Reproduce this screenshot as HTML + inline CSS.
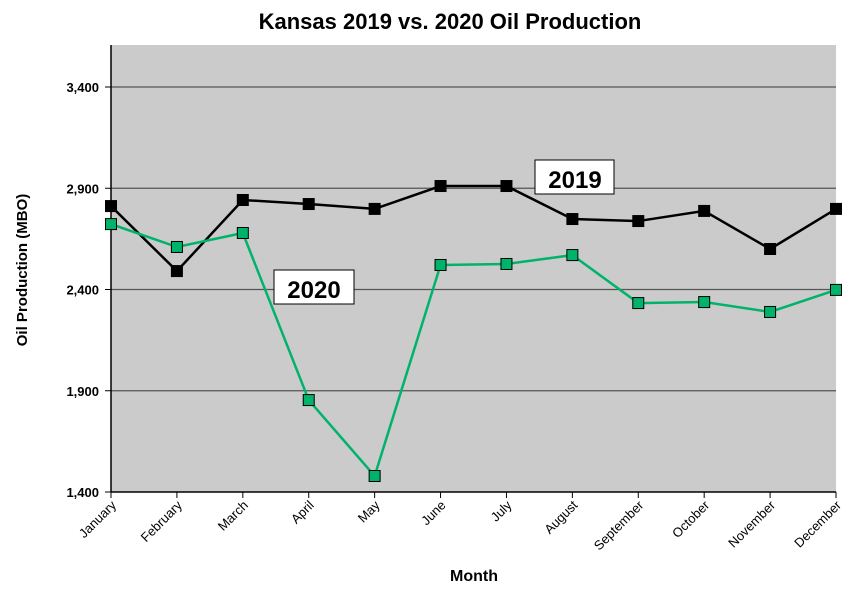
<!DOCTYPE html>
<html><head><meta charset="utf-8"><style>
body{margin:0;background:#fff;font-family:"Liberation Sans",Arial,sans-serif;}
svg text{font-family:"Liberation Sans",Arial,sans-serif;}
</style></head><body>
<svg id="chart" width="856" height="585">
<text x="450" y="29" text-anchor="middle" font-size="22" font-weight="bold">Kansas 2019 vs. 2020 Oil Production</text>
<rect x="111" y="45" width="725" height="447" fill="#cbcbcb"/>
<g id="grid"></g>
<line x1="111" y1="45" x2="111" y2="492" stroke="#000" stroke-width="1.5"/>
<line x1="111" y1="492" x2="836" y2="492" stroke="#000" stroke-width="1.5"/>
<g id="xticks"></g>
<g id="series"></g>
<text transform="translate(27,270) rotate(-90)" text-anchor="middle" font-size="15" font-weight="bold">Oil Production (MBO)</text>
<text x="474" y="581" text-anchor="middle" font-size="16" font-weight="bold">Month</text>
<g><rect x="535" y="160" width="79" height="34" fill="#fff" stroke="#000"/><text x="575" y="188" text-anchor="middle" font-size="24" font-weight="bold">2019</text></g>
<g><rect x="274" y="270" width="80" height="34" fill="#fff" stroke="#000"/><text x="314" y="298" text-anchor="middle" font-size="24" font-weight="bold">2020</text></g>
</svg>
<script>
const months=["January","February","March","April","May","June","July","August","September","October","November","December"];
const values2019=[2812,2491,2842,2822,2798,2911,2911,2748,2738,2788,2600,2798];
const values2020=[2723,2610,2679,1854,1479,2521,2526,2570,2333,2338,2289,2398];
const yTicks=[1400,1900,2400,2900,3400];
const yTickLabels=["1,400","1,900","2,400","2,900","3,400"];
const NS="http://www.w3.org/2000/svg";
function xs(i){return 111+i*(725/11);}
function ys(v){return 492-(v-1400)*0.2025;}
function mk(t,a,p){const e=document.createElementNS(NS,t);for(const k in a)e.setAttribute(k,a[k]);p.appendChild(e);return e;}
const grid=document.getElementById('grid');
yTicks.forEach((v,i)=>{
 if(i>0){const l=mk('line',{x1:111,x2:836,y1:ys(v),y2:ys(v),stroke:'#555','stroke-width':1.2},grid);
 
 }
 const tk=mk('line',{x1:105,x2:111,y1:ys(v),y2:ys(v),stroke:'#000'},grid);
 
 
 const t=mk('text',{x:99,y:ys(v)+5,'text-anchor':'end','font-size':13,'font-weight':'bold'},grid);
 t.textContent=yTickLabels[i];
 
 
});
const xt=document.getElementById('xticks');
months.forEach((m,i)=>{
 const x=xs(i);
 const tk=mk('line',{x1:x,x2:x,y1:492,y2:498,stroke:'#000'},xt);
 
 
 const t=mk('text',{transform:`translate(${x+6},${506}) rotate(-45)`,'text-anchor':'end','font-size':13},xt);
 t.textContent=m;
 
 
});
const sg=document.getElementById('series');
function drawSeries(vals,color,fill,name){
 const g=mk('g',{},sg);
 
 
 const pl=mk('polyline',{points:vals.map((v,i)=>xs(i)+','+ys(v)).join(' '),fill:'none',stroke:color,'stroke-width':2.5},g);
 
 
 vals.forEach((v,i)=>{
  const r=mk('rect',{x:xs(i)-5.5,y:ys(v)-5.5,width:11,height:11,fill:fill,stroke:'#000','stroke-width':1},g);
  
  
 });
}
drawSeries(values2019,'#000','#000','series-2019');
drawSeries(values2020,'#00b36b','#00b36b','series-2020');
</script>
</body></html>
